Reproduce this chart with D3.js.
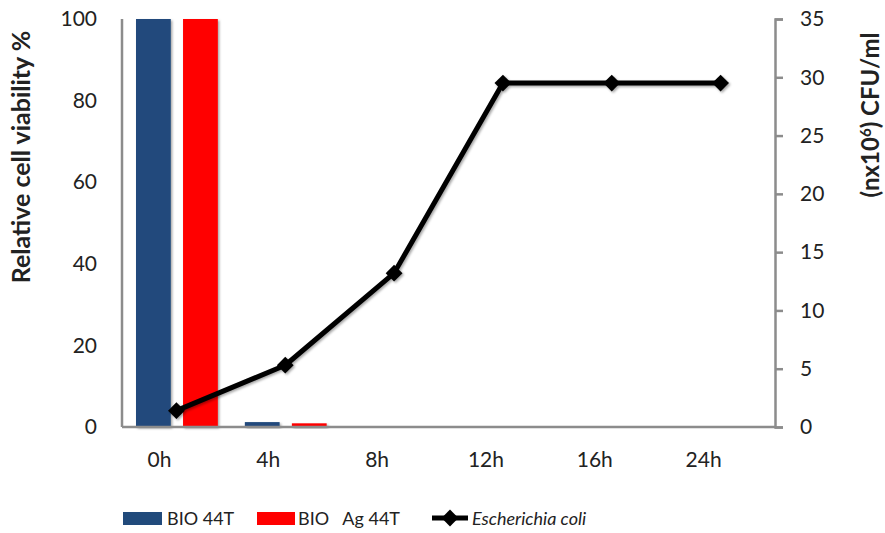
<!DOCTYPE html>
<html>
<head>
<meta charset="utf-8">
<script src="https://cdn.jsdelivr.net/npm/d3@7"></script>
<style>
body{margin:0;background:#fff;}
text{font-family:Lato,'Open Sans',sans-serif;fill:#222;}
</style>
</head>
<body>
<svg id="chart" width="885" height="533"></svg>
<script>

var categories = ['0h','4h','8h','12h','16h','24h'];
var bio44T = [100,1.2,0,0,0,0];
var bioAg44T = [100,0.9,0,0,0,0];
var ecoli = [1.4,5.3,13.2,29.5,29.5,29.5];
var leftTicks = [0,20,40,60,80,100];
var rightTicks = [0,5,10,15,20,25,30,35];

var plotLeft = 122, plotRight = 775, plotTop = 19, plotBottom = 427;

var svg = d3.select('#chart');

var x = d3.scaleBand()
			.domain(categories)
			.range([plotLeft,plotRight]);
var xInner = d3.scaleBand()
			.domain(['a','b'])
			.range([14,x.bandwidth()-13])
			.paddingInner(0.26);
var yL = d3.scaleLinear().domain([0,100]).range([plotBottom,plotTop]);
var yR = d3.scaleLinear().domain([0,35]).range([plotBottom,plotTop]);

var defs = svg.append('defs');
var f = defs.append('filter').attr('id','shadow').attr('x','-20%').attr('y','-20%').attr('width','160%').attr('height','160%');
f.append('feDropShadow').attr('dx',1.5).attr('dy',1.5).attr('stdDeviation',1.2).attr('flood-color','#000').attr('flood-opacity',0.35);

// bars
var groups = svg.append('g');
function drawBars(vals,key,col){
	groups.selectAll('.bar'+key)
		.data(vals)
		.enter()
		.append('rect')
		.attr('class','bar'+key)
		.attr('x',function(d,i){ return x(categories[i])+xInner(key) })
		.attr('width',xInner.bandwidth())
		.attr('y',function(d){ return yL(d) })
		.attr('height',function(d){ return plotBottom-yL(d) })
		.attr('fill',col)
		.style('filter','url(#shadow)');
}
drawBars(bio44T,'a','#214a7b');
drawBars(bioAg44T,'b','#ff0000');

// axes
var axisCol = '#8c8c8c';
var gL = svg.append('g').attr('transform','translate('+plotLeft+',0)')
		.call(d3.axisLeft(yL).tickValues(leftTicks).tickSize(0).tickPadding(25));
var gR = svg.append('g').attr('transform','translate('+plotRight+',0)')
		.call(d3.axisRight(yR).tickValues(rightTicks).tickSize(8).tickPadding(17));
var gX = svg.append('g').attr('transform','translate(0,'+plotBottom+')')
		.call(d3.axisBottom(x).tickSize(0).tickPadding(25));
[gL,gR,gX].forEach(function(g){
	g.select('.domain').attr('stroke',axisCol).attr('stroke-width',2.5);
	g.selectAll('.tick line').attr('stroke',axisCol).attr('stroke-width',2.5);
	g.selectAll('.tick text').style('font-size','21px').attr('fill','#222');
});
gX.selectAll('.tick text').attr('dx',-17);
gL.select('.domain').attr('d','M0,'+plotTop+'V'+plotBottom);
gX.select('.domain').attr('d','M'+plotLeft+',0H'+plotRight);

// line
var line = d3.line()
			.x(function(d,i){ return x(categories[i])+x.bandwidth()/2 })
			.y(function(d){ return yR(d) });
var lineG = svg.append('g').style('filter','url(#shadow)');
lineG.append('path')
	.datum(ecoli)
	.attr('d',line)
	.attr('fill','none')
	.attr('stroke','#000')
	.attr('stroke-width',5)
	.attr('stroke-linejoin','round');
var diamond = d3.symbol().type(d3.symbolDiamond2).size(180);
lineG.selectAll('.pt')
	.data(ecoli)
	.enter()
	.append('path')
	.attr('class','pt')
	.attr('d',diamond)
	.attr('transform',function(d,i){ return 'translate('+(x(categories[i])+x.bandwidth()/2)+','+yR(d)+')' })
	.attr('fill','#000');

// axis titles
svg.append('text')
	.attr('transform','translate(30,157) rotate(-90)')
	.style('text-anchor','middle')
	.style('font-size','25px')
	.style('font-weight','bold')
	.text('Relative cell viability %');
var rt = svg.append('text')
	.attr('transform','translate(879,115) rotate(-90)')
	.style('text-anchor','middle')
	.style('font-size','24px')
	.style('font-weight','bold');
rt.append('tspan').text('(nx10');
rt.append('tspan').attr('dy',-8).style('font-size','15px').text('6');
rt.append('tspan').attr('dy',8).text(') CFU/ml');

// legend
var lg = svg.append('g').attr('transform','translate(0,518)');
lg.append('rect').attr('x',123).attr('y',-6).attr('width',39).attr('height',13).attr('fill','#214a7b');
lg.append('text').attr('x',167).attr('y',7).style('font-size','18px').text('BIO 44T');
lg.append('rect').attr('x',257).attr('y',-6).attr('width',38).attr('height',13).attr('fill','#ff0000');
lg.append('text').attr('x',298).attr('y',7).style('font-size','18px').attr('xml:space','preserve').text('BIO   Ag 44T');
lg.append('line').attr('x1',432).attr('x2',468).attr('y1',0).attr('y2',0).attr('stroke','#000').attr('stroke-width',5);
lg.append('path').attr('d',diamond).attr('transform','translate(450,0)').attr('fill','#000');
lg.append('text').attr('x',472).attr('y',7).style('font-size','18px').style('font-style','italic').text('Escherichia coli');

</script>
</body>
</html>
